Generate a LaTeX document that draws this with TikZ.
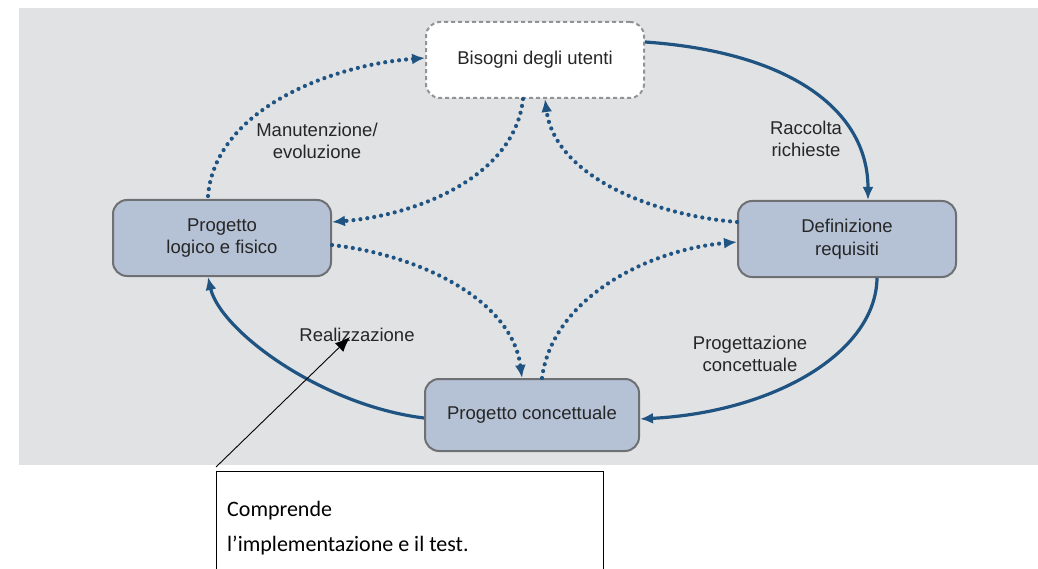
\documentclass[tikz,border=0pt]{standalone}
\usepackage{fontspec}
\setmainfont{Liberation Sans}
\newfontfamily\calib{Carlito}
\usetikzlibrary{arrows.meta}
\definecolor{bgray}{HTML}{E1E2E4}
\definecolor{boxfill}{HTML}{B5C1D5}
\definecolor{boxdraw}{HTML}{6E7074}
\definecolor{arr}{HTML}{1F5482}
\definecolor{txt}{HTML}{262626}
\newcommand\lblfont{\fontsize{18.5}{22.5}\selectfont}
\begin{document}
\begin{tikzpicture}[x=1pt,y=-1pt,
  phase/.style={draw=boxdraw,line width=2pt,fill=boxfill,rounded corners=14pt,
    minimum width=218pt,minimum height=76pt,align=center,font=\lblfont,text=txt},
  userbox/.style={phase,fill=white,draw=gray!85,dash pattern=on 4pt off 3pt},
  lbl/.style={font=\lblfont,align=center,text=txt},
  solidarr/.style={draw=arr,line width=3.2pt,-{Latex[length=13pt,width=11pt]}},
  dotarr/.style={draw=arr,line width=4.2pt,line cap=round,dash pattern=on 0pt off 7pt,
    -{Latex[length=13pt,width=11pt]}},
  leader/.style={draw=black,line width=0.9pt,-{Latex[length=15pt,width=12pt]}}]
\useasboundingbox (0,0) rectangle (1038,569);
\fill[white] (0,0) rectangle (1038,569);
\fill[bgray] (19,8) rectangle (1038,465);

\node[userbox] (B) at (535,60) {Bisogni degli utenti};
\node[phase] (L) at (222,238) {Progetto\\logico e fisico};
\node[phase] (D) at (847,239) {Definizione\\requisiti};
\node[phase,minimum width=214pt,minimum height=72pt] (C) at (532,415) {Progetto concettuale};

% solid cycle
\draw[solidarr] ([shift={(0,-18)}]B.east) .. controls (790,52) and (868,110) .. ([shift={(21,0)}]D.north);
\draw[solidarr] ([shift={(30,0)}]D.south) .. controls (876,352) and (775,412) .. ([shift={(0,4)}]C.east);
\draw[solidarr] ([shift={(0,3)}]C.west) .. controls (320,405) and (220,330) .. ([shift={(-14,0)}]L.south);

% dotted
\draw[dotarr] ([shift={(-14,-3)}]L.north) .. controls (215,110) and (330,65) .. ([shift={(0,-2)}]B.west);
\draw[dotarr] ([shift={(-12,0)}]B.south) .. controls (515,175) and (420,215) .. ([shift={(0,-16)}]L.east);
\draw[dotarr] ([shift={(0,-17)}]D.west) .. controls (650,215) and (555,175) .. ([shift={(10,0)}]B.south);
\draw[dotarr] ([shift={(0,7)}]L.east) .. controls (420,255) and (512,300) .. ([shift={(-10,0)}]C.north);
\draw[dotarr] ([shift={(10,0)}]C.north) .. controls (552,300) and (645,250) .. ([shift={(0,3)}]D.west);

% labels
\node[lbl] (lman) at (317,141) {Manutenzione/\\evoluzione};
\node[lbl] (lrac) at (806,139) {Raccolta\\richieste};
\node[lbl] (lreal) at (357,335) {Realizzazione};
\node[lbl] (lpc) at (750,354) {Progettazione\\concettuale};

% callout
\draw[black,line width=0.9pt] (216,580) -- (216,471) -- (603,471) -- (603,580);
\node[font=\calib\fontsize{22}{35}\selectfont,align=left,anchor=north west,inner sep=0pt] (note) at (227,501) {Comprende\\l’implementazione e il test.};
\coordinate (base) at (216,467);
\coordinate (tip) at (350,337);
\draw[leader] (base) -- (tip);
\end{tikzpicture}
\end{document}
